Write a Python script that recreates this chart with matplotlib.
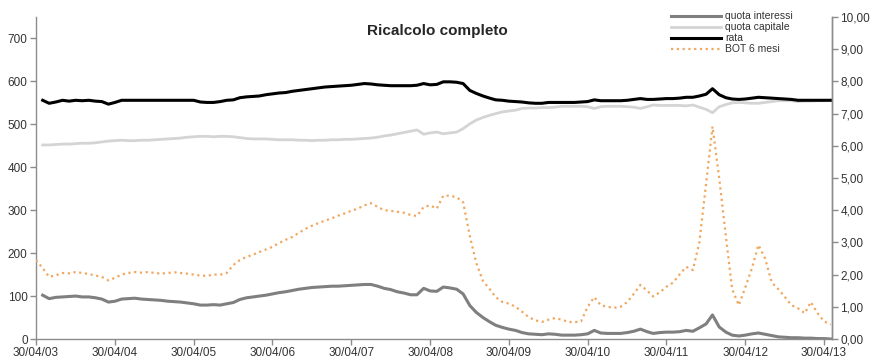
import matplotlib
matplotlib.use("Agg")
import matplotlib.pyplot as plt
import matplotlib.dates as mdates
from matplotlib.lines import Line2D
from matplotlib.ticker import FuncFormatter
import pandas as pd

plt.rcParams["font.family"] = ["Liberation Sans", "DejaVu Sans"]

# monthly series; BOT starts 30/04/03, the loan series one month later
bot_dates = pd.date_range("2003-04-30", periods=122, freq="ME")
loan_dates = bot_dates[1:]

bot_6m = [
    2.45, 2.20, 1.93, 1.98, 2.05, 2.04, 2.08, 2.05, 2.02, 1.97, 1.93, 1.82,
    1.90, 2.00, 2.05, 2.08, 2.06, 2.08, 2.05, 2.03, 2.05, 2.07, 2.05, 2.03,
    2.00, 1.97, 1.96, 2.00, 2.00, 2.05, 2.30, 2.45, 2.55, 2.62, 2.70, 2.78,
    2.86, 2.98, 3.08, 3.17, 3.30, 3.42, 3.52, 3.60, 3.68, 3.75, 3.83, 3.90,
    3.98, 4.05, 4.15, 4.22, 4.10, 4.00, 3.98, 3.95, 3.92, 3.85, 3.82, 4.10,
    4.15, 4.05, 4.45, 4.45, 4.40, 4.25, 3.20, 2.36, 1.80, 1.55, 1.30, 1.15,
    1.10, 1.00, 0.85, 0.68, 0.58, 0.53, 0.60, 0.65, 0.60, 0.53, 0.52, 0.55,
    1.00, 1.30, 1.05, 1.00, 0.97, 1.00, 1.15, 1.40, 1.68, 1.50, 1.32, 1.45,
    1.62, 1.75, 2.00, 2.24, 2.14, 3.00, 4.80, 6.60, 5.00, 3.20, 1.55, 1.05,
    1.60, 2.20, 2.92, 2.50, 1.75, 1.55, 1.30, 1.05, 0.95, 0.80, 1.15, 0.80,
    0.55, 0.45,
]

quota_interessi = [
    102, 94, 97, 98, 99, 100, 98, 98, 96, 93, 86,
    88, 93, 94, 95, 93, 92, 91, 90, 88, 87, 86, 84,
    82, 79, 79, 80, 79, 82, 85, 92, 96, 98, 100, 102,
    105, 108, 110, 113, 116, 118, 120, 121, 122, 123, 123, 124,
    125, 126, 127, 127, 123, 118, 115, 110, 107, 103, 103, 118,
    112, 111, 121, 119, 116, 105, 78, 62, 50, 40, 32, 27,
    23, 20, 15, 12, 11, 10, 12, 11, 9, 9, 9, 10,
    12, 20, 14, 13, 13, 13, 15, 18, 23, 17, 13, 15,
    16, 16, 17, 20, 18, 26, 35, 56, 28, 16, 9, 7,
    9, 12, 14, 11, 8, 5, 4, 3, 3, 2, 2, 1,
    1, 0,
]

quota_capitale = [
    452, 452, 453, 454, 454, 455, 456, 456, 457, 459, 461,
    462, 463, 462, 462, 463, 463, 464, 465, 466, 467, 468, 470,
    471, 472, 472, 471, 472, 472, 471, 469, 467, 466, 466, 466,
    465, 464, 464, 464, 463, 463, 462, 463, 463, 464, 464, 465,
    465, 466, 467, 468, 470, 473, 475, 478, 481, 484, 487, 477,
    480, 482, 478, 480, 482, 490, 501, 510, 516, 521, 525, 529,
    531, 533, 537, 538, 538, 539, 539, 540, 542, 542, 542, 542,
    541, 537, 541, 542, 542, 542, 541, 540, 537, 541, 545, 544,
    544, 544, 544, 543, 545, 540, 535, 527, 541, 546, 550, 551,
    550, 549, 549, 551, 553, 555, 555, 555, 553, 554, 554, 555,
    555, 556,
]

rata = [
    556, 549, 552, 556, 554, 556, 555, 556, 554, 553, 547,
    551, 556, 556, 556, 556, 556, 556, 556, 556, 556, 556, 556,
    556, 552, 551, 551, 553, 556, 557, 562, 564, 565, 566, 569,
    571, 573, 574, 577, 579, 581, 583, 585, 587, 588, 589, 590,
    591, 593, 595, 594, 592, 591, 590, 590, 590, 590, 591, 595,
    592, 593, 599, 599, 598, 595, 579, 572, 566, 561, 557, 556,
    554, 553, 552, 550, 549, 549, 551, 551, 551, 551, 551, 552,
    553, 557, 555, 555, 555, 555, 556, 558, 560, 558, 558, 559,
    560, 560, 561, 563, 563, 566, 570, 583, 569, 562, 559, 558,
    559, 561, 563, 562, 561, 560, 559, 558, 556, 556, 556, 556,
    556, 556,
]

year_ticks = pd.date_range("2003-04-30", periods=11, freq="12ME")

axis_grey = "#8c8c8c"
text_grey = "#333333"

fig = plt.figure(figsize=(8.73, 3.6), dpi=100)
ax = fig.add_axes([36 / 873, 21 / 360, 796 / 873, 322 / 360])
ax2 = ax.twinx()

ax.plot(loan_dates, quota_interessi, color="#7f7f7f", lw=2.2)
ax.plot(loan_dates, quota_capitale, color="#d4d4d4", lw=2.0)
ax.plot(loan_dates, rata, color="black", lw=2.2)
ax2.plot(bot_dates, bot_6m, color="#f0a860", lw=1.6, linestyle=(0, (1, 1.6)))

ax.set_xlim(pd.Timestamp("2003-04-30"), pd.Timestamp("2013-06-06"))
ax.set_ylim(0, 750)
ax2.set_ylim(0, 10)
ax.set_yticks(range(0, 701, 100))
ax2.set_yticks(range(0, 11))
ax2.yaxis.set_major_formatter(FuncFormatter(lambda v, _: f"{v:.2f}".replace(".", ",")))

ax.set_xticks(year_ticks)
ax.xaxis.set_major_formatter(mdates.DateFormatter("%d/%m/%y"))

for a in (ax, ax2):
    a.spines["top"].set_visible(False)
    for side in ("left", "right", "bottom"):
        a.spines[side].set_color(axis_grey)
        a.spines[side].set_linewidth(1.0)
    a.tick_params(colors=axis_grey, labelcolor=text_grey, labelsize=8.5,
                  length=4, width=1, direction="out", pad=2)
ax2.spines["left"].set_visible(False)
ax2.spines["bottom"].set_visible(False)

fig.text(437 / 873, 1 - 31 / 360, "Ricalcolo completo", ha="center", va="center",
         fontsize=11, fontweight="bold", color="#262626")

handles = [
    Line2D([], [], color="#7f7f7f", lw=2.2),
    Line2D([], [], color="#d4d4d4", lw=2.0),
    Line2D([], [], color="black", lw=2.2),
    Line2D([], [], color="#f0a860", lw=1.6, linestyle=(0, (1, 1.6))),
]
labels = ["quota interessi", "quota capitale", "rata", "BOT 6 mesi"]
fig.legend(handles, labels, loc="upper left", bbox_to_anchor=(664 / 873, 1 - 4 / 360),
           frameon=False, fontsize=7.5, handlelength=4.8, handletextpad=0.4,
           labelspacing=0.1, borderpad=0.2, labelcolor=text_grey)

fig.savefig("out.png", dpi=100)
plt.close(fig)
